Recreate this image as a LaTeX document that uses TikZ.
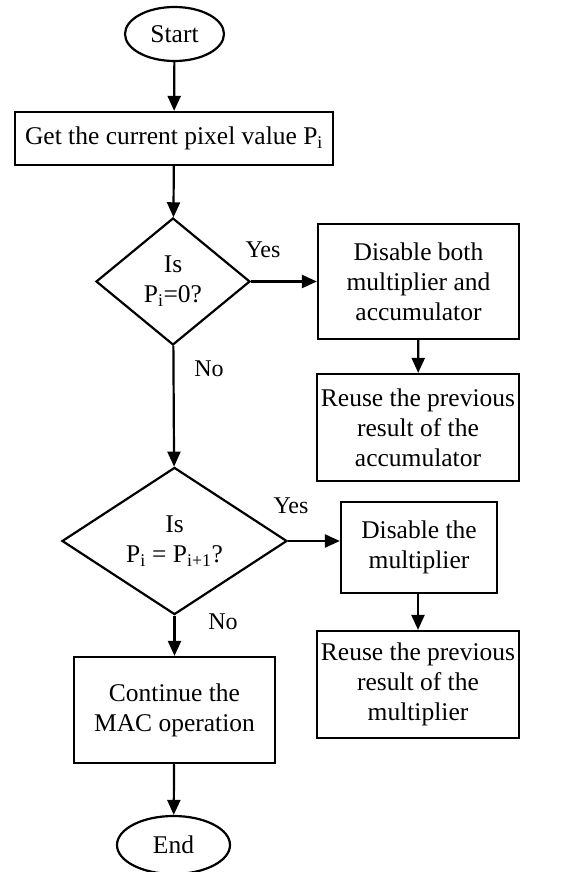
\documentclass[tikz,border=0pt]{standalone}
\usepackage{fontspec}
\setmainfont{Liberation Serif}
\usetikzlibrary{shapes.geometric,arrows.meta}
\begin{document}
\begin{tikzpicture}[x=1pt,y=-1pt,
  base/.style={draw=black,line width=2.2pt,inner sep=0pt,align=center,
    font=\fontsize{25.5}{30}\selectfont},
  term/.style={base,ellipse},
  proc/.style={base,rectangle},
  dec/.style={base,diamond},
  flow/.style={line width=2.2pt,-{Triangle[length=15pt,width=13pt]}},
  lbl/.style={inner sep=0pt,font=\fontsize{24}{28}\selectfont}]
\useasboundingbox (0,0) rectangle (561,872);

% main column
\node[term,minimum width=99pt,minimum height=54pt] (start) at (174.5,34) {Start};
\node[proc,minimum width=318pt,minimum height=53pt] (get) at (174,138.5)
  {Get the current pixel value P\textsubscript{i}};
\node[dec,minimum width=154pt,minimum height=127pt] (zero) at (173,281.5)
  {Is\\P\textsubscript{i}=0?};
\node[dec,minimum width=225pt,minimum height=126pt] (same) at (174.5,541)
  {Is\\P\textsubscript{i} = P\textsubscript{i+1}?};
\node[proc,minimum width=201pt,minimum height=106pt] (mac) at (174.5,710)
  {Continue the\\MAC operation};
\node[term,minimum width=113pt,minimum height=58pt] (end) at (173.5,845) {End};

% right column
\node[proc,minimum width=201pt,minimum height=115pt] (disboth) at (418.5,281.5)
  {Disable both\\multiplier and\\accumulator};
\node[proc,minimum width=202pt,minimum height=107pt] (reacc) at (418,427.5)
  {Reuse the previous\\result of the\\accumulator};
\node[proc,minimum width=156pt,minimum height=91pt] (dismul) at (419,547.5)
  {Disable the\\multiplier};
\node[proc,minimum width=202pt,minimum height=107pt] (remul) at (418,684.5)
  {Reuse the previous\\result of the\\multiplier};

% connectors
\draw[flow] (start) -- (get);
\draw[flow] (get) -- (zero);
\draw[flow] (zero.east) -- (disboth.west |- zero.east);
\draw[flow] (disboth) -- (reacc);
\draw[flow] (zero) -- (same);
\draw[flow] (same.east) -- (dismul.west |- same.east);
\draw[flow] (dismul.south -| remul.north) -- (remul.north);
\draw[flow] (same) -- (mac);
\draw[flow] (mac) -- (end);

% branch labels
\node[lbl] (yes1) at (263,250) {Yes};
\node[lbl] (no1) at (209,369) {No};
\node[lbl] (yes2) at (291,506) {Yes};
\node[lbl] (no2) at (223,622) {No};
\end{tikzpicture}
\end{document}
